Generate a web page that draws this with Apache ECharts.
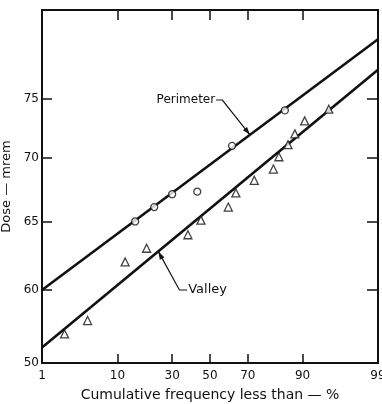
<!DOCTYPE html>
<html><head><meta charset="utf-8">
<script src="https://cdn.jsdelivr.net/npm/echarts@6/dist/echarts.min.js"></script>
<style>html,body{margin:0;padding:0;background:#fff}#c{width:382px;height:404px}</style>
</head><body><div id="c"></div>
<script>
// ---- Data (x: cumulative frequency in %, y: dose in mrem) ----
const xTickPercents = [1, 10, 30, 50, 70, 90, 99];
const xTickLabels = ['1', '10', '30', '50', '70', '90', '99'];
const yTickValues = [60, 65, 70, 75];
const yBottomLabel = '50';
const perimeterPct  = [15, 22, 30, 43, 62, 85];
const perimeterDose = [65.0, 66.1, 67.1, 67.3, 71.0, 74.0];
const valleyPct  = [2.2, 4.5, 12, 19, 38, 45, 60, 64, 73, 81, 83, 86, 88, 90.5, 95];
const valleyDose = [57.0, 57.9, 62.0, 63.0, 64.0, 65.1, 66.1, 67.2, 68.2, 69.1, 70.1, 71.1, 72.0, 73.1, 74.1];
const perimeterFitPct  = [1, 99];
const perimeterFitDose = [60.0, 80.4];
const valleyFitPct  = [1, 99];
const valleyFitDose = [56.1, 77.6];

// normal-probability scale (inverse normal CDF, Acklam)
function probit(p){
  const a=[-3.969683028665376e+01,2.209460984245205e+02,-2.759285104469687e+02,1.383577518672690e+02,-3.066479806614716e+01,2.506628277459239e+00];
  const b=[-5.447609879822406e+01,1.615858368580409e+02,-1.556989798598866e+02,6.680131188771972e+01,-1.328068155288572e+01];
  const c=[-7.784894002430293e-03,-3.223964580411365e-01,-2.400758277161838e+00,-2.549671625738839e+00,4.374664141464968e+00,2.938163982698783e+00];
  const d=[7.784695709041462e-03,3.224671290700398e-01,2.445134137142996e+00,3.754408661907416e+00];
  const pl=0.02425, ph=1-pl; let q,r;
  if(p<pl){q=Math.sqrt(-2*Math.log(p));return (((((c[0]*q+c[1])*q+c[2])*q+c[3])*q+c[4])*q+c[5])/((((d[0]*q+d[1])*q+d[2])*q+d[3])*q+1);}
  if(p<=ph){q=p-0.5;r=q*q;return (((((a[0]*r+a[1])*r+a[2])*r+a[3])*r+a[4])*r+a[5])*q/(((((b[0]*r+b[1])*r+b[2])*r+b[3])*r+b[4])*r+1);}
  q=Math.sqrt(-2*Math.log(1-p));return -(((((c[0]*q+c[1])*q+c[2])*q+c[3])*q+c[4])*q+c[5])/((((d[0]*q+d[1])*q+d[2])*q+d[3])*q+1);
}
const z = pct => probit(pct / 100);
const pairs = (xs, ys) => xs.map((x, i) => [z(x), ys[i]]);

const INK = '#111';
const FONT = 'DejaVu Sans';
const xMin = z(1), xMax = z(99);
const yMin = 55.1, yMax = 83.2;
const xInnerTicks = xTickPercents.slice(1, -1).map(z);
const xLabelVals = xTickPercents.map(z);
const xFmt = v => { let bi = 0, bd = 1e9; xLabelVals.forEach((t, i) => { const dd = Math.abs(t - v); if (dd < bd) { bd = dd; bi = i; } }); return xTickLabels[bi]; };
const yLabelVals = [yMin * 1.00001].concat(yTickValues);
const yFmt = v => v < yTickValues[0] - 1 ? yBottomLabel : String(Math.round(v));

const axisLine = {show: true, onZero: false, lineStyle: {color: INK, width: 2}};
const tickStyle = {color: INK, width: 1.5};

const chart = echarts.init(document.getElementById('c'), null, {renderer: 'canvas'});
chart.setOption({
  backgroundColor: '#fff',
  animation: false,
  grid: {left: 42, right: 4, top: 10, bottom: 41, containLabel: false, outerBoundsMode: 'none'},
  xAxis: [
    {type: 'value', position: 'bottom', min: xMin, max: xMax,
     axisLine: axisLine,
     axisTick: {show: true, inside: true, length: 9, customValues: xInnerTicks, lineStyle: tickStyle},
     axisLabel: {show: true, customValues: xLabelVals, formatter: xFmt, margin: 7, color: INK, fontSize: 12, fontFamily: FONT, showMinLabel: true, showMaxLabel: true},
     splitLine: {show: false},
     name: 'Cumulative frequency less than — %', nameLocation: 'middle', nameGap: 25,
     nameTextStyle: {color: INK, fontSize: 14, fontFamily: FONT}},
    {type: 'value', position: 'top', min: xMin, max: xMax,
     axisLine: axisLine,
     axisTick: {show: true, inside: true, length: 10, customValues: xInnerTicks, lineStyle: tickStyle},
     axisLabel: {show: false}, splitLine: {show: false}}
  ],
  yAxis: [
    {type: 'log', logBase: 10, position: 'left', min: yMin, max: yMax,
     axisLine: axisLine,
     axisTick: {show: true, inside: true, length: 10, customValues: yTickValues, lineStyle: tickStyle},
     axisLabel: {show: true, customValues: yLabelVals, formatter: yFmt, margin: 3, color: INK, fontSize: 12, fontFamily: FONT, showMinLabel: true},
     splitLine: {show: false},
     name: 'Dose — mrem', nameLocation: 'middle', nameGap: 25,
     nameTextStyle: {color: INK, fontSize: 13, fontFamily: FONT}},
    {type: 'log', logBase: 10, position: 'right', min: yMin, max: yMax,
     axisLine: axisLine,
     axisTick: {show: true, inside: true, length: 11, customValues: yTickValues, lineStyle: tickStyle},
     axisLabel: {show: false}, splitLine: {show: false}}
  ],
  series: [
    {name: 'Perimeter fit', type: 'line', data: pairs(perimeterFitPct, perimeterFitDose), showSymbol: false, symbol: 'none',
     lineStyle: {color: INK, width: 2.6}, z: 2},
    {name: 'Valley fit', type: 'line', data: pairs(valleyFitPct, valleyFitDose), showSymbol: false, symbol: 'none',
     lineStyle: {color: INK, width: 2.6}, z: 2},
    {name: 'Perimeter', type: 'scatter', data: pairs(perimeterPct, perimeterDose), symbol: 'circle', symbolSize: 7,
     itemStyle: {color: '#fff', borderColor: INK, borderWidth: 1.3}, z: 3},
    {name: 'Valley', type: 'scatter', data: pairs(valleyPct, valleyDose), symbol: 'triangle', symbolSize: 8,
     itemStyle: {color: '#fff', borderColor: INK, borderWidth: 1.3}, z: 3}
  ]
});

// ---- annotations (leader lines with arrows), placed via the chart's own scales ----
function fitAt(pctArr, doseArr, pct){
  const z0 = z(pctArr[0]), z1 = z(pctArr[1]);
  const l0 = Math.log10(doseArr[0]), l1 = Math.log10(doseArr[1]);
  const t = (z(pct) - z0) / (z1 - z0);
  return Math.pow(10, l0 + t * (l1 - l0));
}
const px = (pct, dose) => chart.convertToPixel({xAxisIndex: 0, yAxisIndex: 0}, [z(pct), dose]);
function arrowHead(from, tip){
  const dx = tip[0] - from[0], dy = tip[1] - from[1];
  const L = Math.hypot(dx, dy), ux = dx / L, uy = dy / L;
  const bx = tip[0] - ux * 8, by = tip[1] - uy * 8;
  return {type: 'polygon', shape: {points: [tip, [bx - uy * 2.6, by + ux * 2.6], [bx + uy * 2.6, by - ux * 2.6]]}, style: {fill: INK}};
}
const g = [];
// Perimeter
{
  const yv = 74.9;
  const dashA = px(53.4, yv), dashB = px(56.8, yv);
  const tip = px(71, fitAt(perimeterFitPct, perimeterFitDose, 71));
  g.push({type: 'text', style: {text: 'Perimeter', x: dashA[0] - 1, y: dashA[1], align: 'right', verticalAlign: 'middle', fill: INK, font: '12px "DejaVu Sans"'}});
  g.push({type: 'polyline', shape: {points: [dashA, dashB, tip]}, style: {stroke: INK, lineWidth: 1.2, fill: null}});
  g.push(arrowHead(dashB, tip));
}
// Valley
{
  const yv = 60.0;
  const dashA = px(33.6, yv), dashB = px(37.6, yv);
  const tip = px(23.7, fitAt(valleyFitPct, valleyFitDose, 23.7));
  g.push({type: 'text', style: {text: 'Valley', x: dashB[0] + 1, y: dashB[1], align: 'left', verticalAlign: 'middle', fill: INK, font: '13px "DejaVu Sans"'}});
  g.push({type: 'polyline', shape: {points: [dashB, dashA, tip]}, style: {stroke: INK, lineWidth: 1.2, fill: null}});
  g.push(arrowHead(dashA, tip));
}
chart.setOption({graphic: g.map(e => Object.assign({z: 10}, e))});
</script>
</body></html>
